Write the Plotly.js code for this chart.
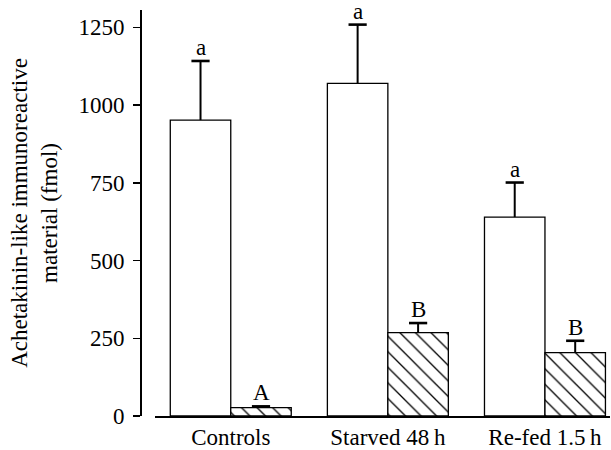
<!DOCTYPE html>
<html>
<head>
<meta charset="utf-8">
<script src="https://cdn.plot.ly/plotly-3.0.1.min.js"></script>
<style>
html,body{margin:0;padding:0;background:#fff;}
#chart{width:611px;height:450px;}
#chart svg text{font-family:"Liberation Serif","Times New Roman",Times,serif !important;}
</style>
</head>
<body>
<div id="chart"></div>
<script>
// ---- data ----
const categories = ['Controls', 'Starved 48\u2009h', 'Re-fed 1.5\u2009h'];
const whiteValues = [952, 1070, 640];
const whiteErrors = [190, 189, 111];
const hatchValues = [27, 268, 204];
const hatchErrors = [4, 31, 38];
const whiteLetters = ['a', 'a', 'a'];
const hatchLetters = ['A', 'B', 'B'];
const yTickValues = [0, 250, 500, 750, 1000, 1250];
const yTickLabels = ['0', '250', '500', '750', '1000', '1250'];
const yTitle = 'Achetakinin-like immunoreactive<br>material (fmol)';

const FONT = 'Liberation Serif';
const bargap = 0.23;
const barW = (1 - bargap) / 2;
const idx = categories.map((c, i) => i);
const zeros = categories.map(() => 0);
const whiteX = idx.map(i => i - barW / 2);
const hatchX = idx.map(i => i + barW / 2);
const whiteTops = whiteValues.map((v, i) => v + whiteErrors[i]);
const hatchTops = hatchValues.map((v, i) => v + hatchErrors[i]);

const errStyle = {color: '#000', thickness: 2, width: 0};
const traceWhite = {
  type: 'bar', x: idx, y: whiteValues,
  marker: {color: '#ffffff', line: {color: '#000', width: 1.3}},
  error_y: Object.assign({type: 'data', symmetric: false, array: whiteErrors, arrayminus: zeros}, errStyle),
  showlegend: false, hoverinfo: 'skip'
};
const traceHatch = {
  type: 'bar', x: idx, y: hatchValues,
  marker: {color: '#ffffff', line: {color: '#000', width: 1.3},
           pattern: {shape: '\\', fgcolor: '#000', bgcolor: '#fff', size: 11, solidity: 0.12}},
  error_y: Object.assign({type: 'data', symmetric: false, array: hatchErrors, arrayminus: zeros}, errStyle),
  showlegend: false, hoverinfo: 'skip'
};
const capStyle = {symbol: 'line-ew', size: 13, color: '#000', line: {color: '#000', width: 2.6}};
const traceCaps = {
  type: 'scatter', mode: 'markers',
  x: whiteX.concat(hatchX), y: whiteTops.concat(hatchTops),
  marker: capStyle, cliponaxis: false, showlegend: false, hoverinfo: 'skip'
};

const annotations = [];
idx.forEach(i => {
  annotations.push({x: whiteX[i], y: whiteTops[i], xref: 'x', yref: 'y',
    text: whiteLetters[i], showarrow: false, yanchor: 'bottom', yshift: -1,
    font: {family: FONT, size: 23, color: '#000'}});
  annotations.push({x: hatchX[i], y: hatchTops[i], xref: 'x', yref: 'y',
    text: hatchLetters[i], showarrow: false, yanchor: 'bottom', yshift: -1,
    font: {family: FONT, size: 23, color: '#000'}});
});

const layout = {
  width: 611, height: 450,
  margin: {l: 140, r: 1, t: 10, b: 34},
  paper_bgcolor: '#fff', plot_bgcolor: '#fff',
  barmode: 'group', bargap: bargap, bargroupgap: 0,
  font: {family: FONT, size: 23, color: '#000'},
  xaxis: {
    type: 'linear', domain: [0.032, 1], range: [-0.482, 2.414],
    tickvals: idx, ticktext: categories,
    showline: true, linecolor: '#000', linewidth: 1.6,
    ticks: '', showgrid: false, zeroline: false,
    tickfont: {family: FONT, size: 23, color: '#000'}
  },
  yaxis: {
    anchor: 'free', position: 0,
    range: [0, 1306], tickvals: yTickValues, ticktext: yTickLabels,
    showline: true, linecolor: '#000', linewidth: 1.6,
    ticks: 'outside', ticklen: 7, tickwidth: 1.5, tickcolor: '#000',
    ticklabelstandoff: 4,
    showgrid: false, zeroline: false,
    tickfont: {family: FONT, size: 23, color: '#000'},
    title: {text: yTitle, font: {family: FONT, size: 23, color: '#000'}, standoff: 13}
  },
  annotations: annotations
};

Plotly.newPlot('chart', [traceWhite, traceHatch, traceCaps], layout, {displayModeBar: false, staticPlot: true});
</script>
</body>
</html>
